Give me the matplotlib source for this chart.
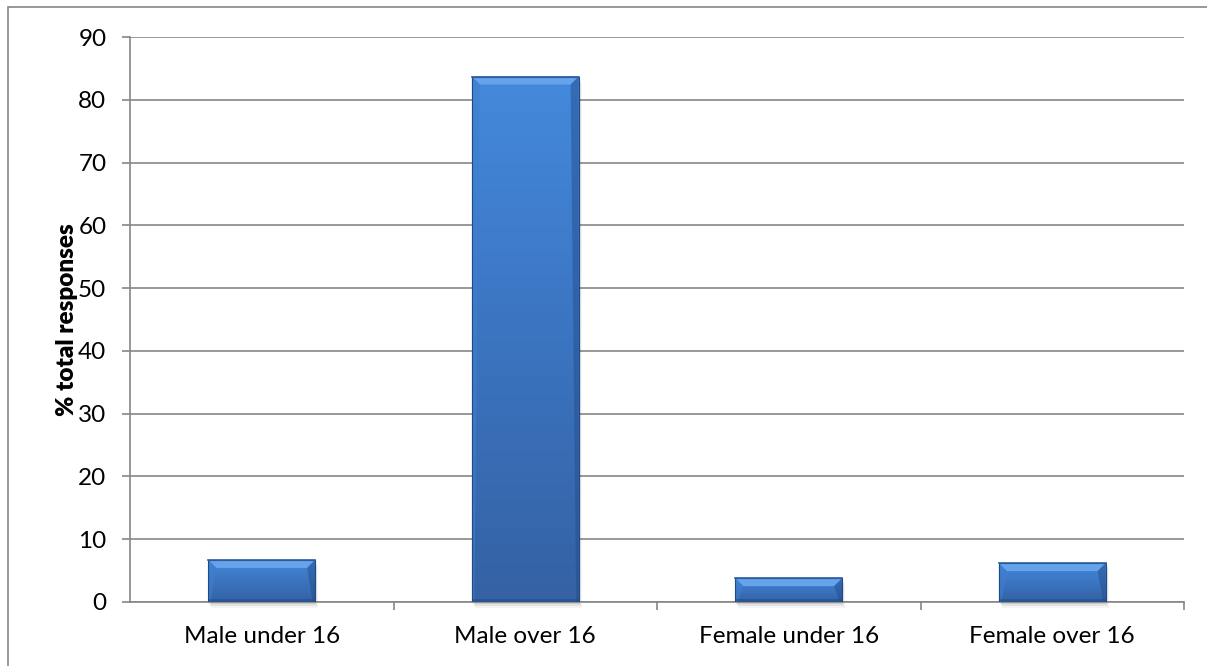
import numpy as np
import matplotlib.pyplot as plt
from matplotlib.patches import Rectangle, Polygon
from matplotlib.colors import LinearSegmentedColormap

categories = ['Male under 16', 'Male over 16', 'Female under 16', 'Female over 16']
values = [6.7, 83.7, 3.8, 6.2]
yticks = [0, 10, 20, 30, 40, 50, 60, 70, 80, 90]

plt.rcParams['font.family'] = ['Lato', 'DejaVu Sans']

W, H = 1207, 666
fig = plt.figure(figsize=(W / 100, H / 100), dpi=100)
fig.patch.set_facecolor('white')

# outer chart frame (cut off at right and bottom)
fig.patches.append(Rectangle((8 / W, -0.05), 1.2, 1 - 7 / H + 0.05, transform=fig.transFigure,
                             fill=False, edgecolor='#868686', lw=1.2, zorder=0))

ax_l, ax_r, ax_t, ax_b = 130, 1184, 37, 602
ax = fig.add_axes([ax_l / W, (H - ax_b) / H, (ax_r - ax_l) / W, (ax_b - ax_t) / H])
ax.set_xlim(-0.5, len(categories) - 0.5)
ax.set_ylim(0, 90)

for s in ['top', 'right']:
    ax.spines[s].set_visible(False)
for s in ['left', 'bottom']:
    ax.spines[s].set_color('#868686')
    ax.spines[s].set_linewidth(1.2)

fs = 17.5
ax.set_yticks(yticks)
ax.tick_params(axis='y', length=6, width=1.2, color='#868686', labelsize=fs, pad=11)
ax.yaxis.grid(True, color='#868686', lw=1.2)
ax.set_axisbelow(True)

x = np.arange(len(categories))
ax.set_xticks(x)
ax.set_xticklabels(categories)
ax.tick_params(axis='x', length=0, labelsize=fs, pad=17)
ax.set_xticks(np.arange(len(categories)) + 0.5, minor=True)
ax.tick_params(axis='x', which='minor', length=6, width=1.2, color='#868686')

ax.set_ylabel('% total responses', fontsize=fs, fontweight='heavy', labelpad=0)

pxx = (ax_r - ax_l) / len(categories)
pxy = (ax_b - ax_t) / 90.0
bw = 0.405
bev = 8

cmap = LinearSegmentedColormap.from_list('bar', ['#3462a4', '#3b74c0', '#4489dc'])
grad = np.linspace(0, 1, 256).reshape(-1, 1)

for xi, v in zip(x, values):
    x0, x1 = xi - bw / 2, xi + bw / 2
    # soft shadow
    for k, a in enumerate([0.10, 0.07, 0.04]):
        ax.add_patch(Rectangle((x0 + (1 + k) / pxx, -(2 + k * 2) / pxy), bw, v,
                               color='black', alpha=a, lw=0, zorder=2, clip_on=False))
    rect = Rectangle((x0, 0), bw, v, facecolor='none', edgecolor='none', zorder=3)
    ax.add_patch(rect)
    im = ax.imshow(grad, cmap=cmap, origin='lower', extent=(x0, x1, 0, v),
                   aspect='auto', zorder=3, interpolation='bicubic')
    im.set_clip_path(rect)

    dx, dy = bev / pxx, bev / pxy
    dy = min(dy, v / 2)
    # bevel faces
    ax.add_patch(Polygon([(x0, v), (x1, v), (x1 - dx, v - dy), (x0 + dx, v - dy)],
                         closed=True, facecolor='#66a3ea', lw=0, zorder=4))
    ax.add_patch(Polygon([(x0, 0), (x0, v), (x0 + dx, v - dy), (x0 + dx * 0.3, 0)],
                         closed=True, facecolor='#3f7fcf', alpha=0.6, lw=0, zorder=4))
    ax.add_patch(Polygon([(x1, 0), (x1, v), (x1 - dx, v - dy), (x1 - dx * 0.3, 0)],
                         closed=True, facecolor='#214a86', alpha=0.45, lw=0, zorder=4))
    ax.add_patch(Rectangle((x0, 0), bw, 3 / pxy, facecolor='#1f4a84', alpha=0.5,
                           lw=0, zorder=4))
    ax.add_patch(Rectangle((x0, 0), bw, v, facecolor='none', edgecolor='#1f4a84',
                           lw=0.8, zorder=5))
    ax.plot([x0, x1], [v, v], color='#2c5fa3', lw=1.2, zorder=5)

fig.savefig('out.png', dpi=100)
